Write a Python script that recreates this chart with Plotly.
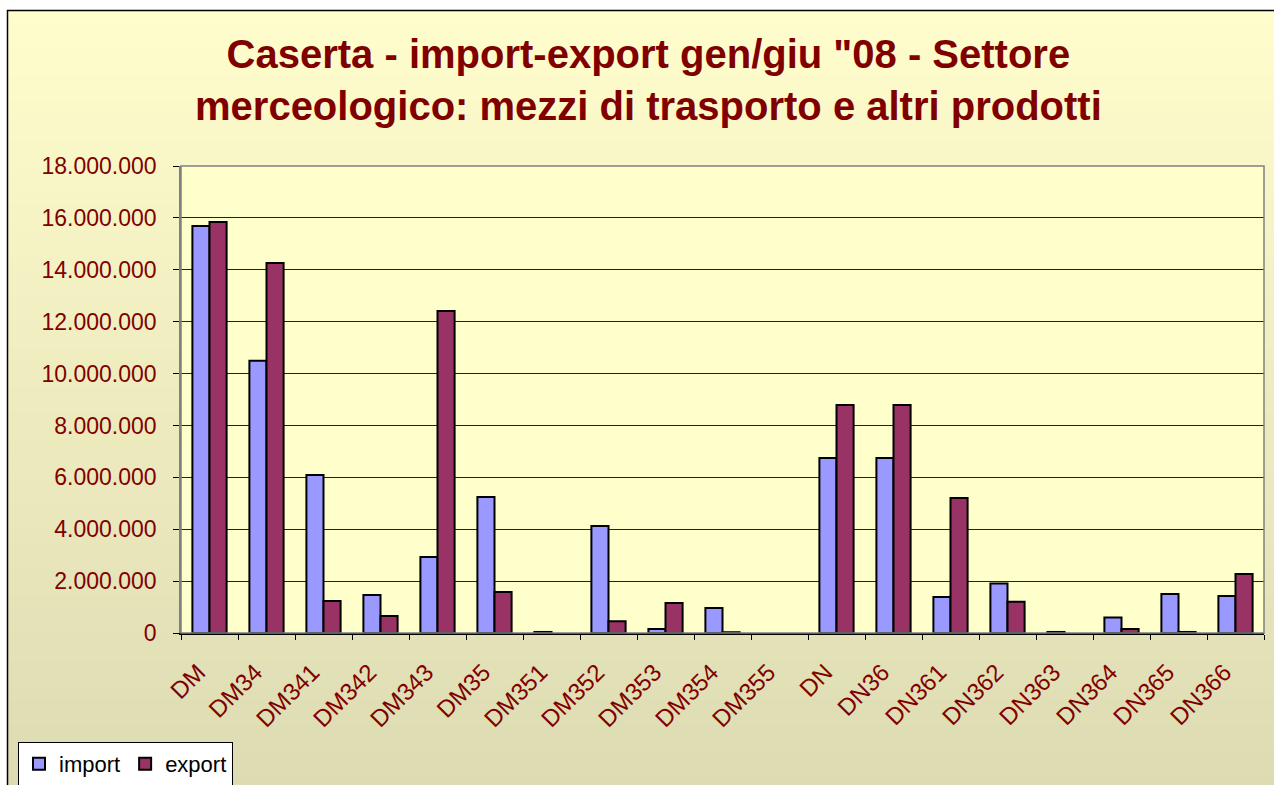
import plotly.graph_objects as go

categories = ["DM", "DM34", "DM341", "DM342", "DM343", "DM35", "DM351", "DM352", "DM353",
              "DM354", "DM355", "DN", "DN36", "DN361", "DN362", "DN363", "DN364", "DN365", "DN366"]
import_vals = [15690000, 10490000, 6090000, 1460000, 2930000, 5240000, 40000, 4120000, 150000,
               960000, None, 6750000, 6750000, 1390000, 1910000, 40000, 600000, 1500000, 1430000]
export_vals = [15840000, 14260000, 1230000, 660000, 12410000, 1580000, None, 450000, 1160000,
               30000, None, 8790000, 8790000, 5200000, 1200000, None, 150000, 40000, 2270000]
y_ticks = [0, 2000000, 4000000, 6000000, 8000000, 10000000, 12000000, 14000000, 16000000, 18000000]

W, H = 1274, 785
ML, MR, MT, MB = 181, 10, 166, 152
PW, PH = W - ML - MR, H - MT - MB

def px_x(p):
    return (p - ML) / PW

def px_y(p):
    return (H - MB - p) / PH

font_family = "Liberation Sans, Arial, sans-serif"
maroon = "#800000"

fig = go.Figure()
fig.add_trace(go.Bar(name="import", x=categories, y=import_vals,
                     marker=dict(color="#9999FF", line=dict(color="black", width=2))))
fig.add_trace(go.Bar(name="export", x=categories, y=export_vals,
                     marker=dict(color="#993366", line=dict(color="black", width=2))))

shapes = []
# gradient background
n = 60
top, bot = 10, 790
c0 = (255, 253, 204)
c1 = (221, 219, 178)
for i in range(n):
    y0p = top + (bot - top) * i / n
    y1p = top + (bot - top) * (i + 1) / n
    t = i / (n - 1)
    c = tuple(round(c0[k] + (c1[k] - c0[k]) * t) for k in range(3))
    shapes.append(dict(type="rect", xref="paper", yref="paper", layer="below",
                       x0=px_x(7), x1=px_x(1290), y0=px_y(y1p + 0.5), y1=px_y(y0p),
                       fillcolor="rgb(%d,%d,%d)" % c, line=dict(width=0)))
# outer border
shapes.append(dict(type="rect", xref="paper", yref="paper", layer="below",
                   x0=px_x(7.5), x1=px_x(1300), y0=px_y(800), y1=px_y(10.5),
                   fillcolor="rgba(0,0,0,0)", line=dict(color="black", width=1.5)))
# plot area fill
shapes.append(dict(type="rect", xref="paper", yref="paper", layer="below",
                   x0=0, x1=1, y0=0, y1=1, fillcolor="#FFFFCC", line=dict(width=0)))
# plot area border (gray)
shapes.append(dict(type="rect", xref="paper", yref="paper", layer="above",
                   x0=0, x1=1, y0=0, y1=1, fillcolor="rgba(0,0,0,0)",
                   line=dict(color="#808080", width=1.5)))

fig.update_layout(
    width=W, height=H,
    margin=dict(l=ML, r=MR, t=MT, b=MB, pad=0, autoexpand=False),
    paper_bgcolor="rgba(0,0,0,0)",
    plot_bgcolor="rgba(0,0,0,0)",
    separators=",.",
    barmode="group",
    bargap=0.4,
    bargroupgap=0,
    shapes=shapes,
    font=dict(family=font_family, color=maroon),
    showlegend=True,
    legend=dict(orientation="h", x=px_x(18), y=px_y(786), xanchor="left", yanchor="bottom",
                bgcolor="white", bordercolor="black", borderwidth=1,
                font=dict(size=22, color="black", family=font_family),
                itemwidth=30, tracegroupgap=0),
    annotations=[dict(text="Caserta - import-export gen/giu \"08 - Settore<br>merceologico: mezzi di trasporto e altri prodotti",
                      xref="paper", yref="paper", x=px_x(648), y=px_y(80),
                      xanchor="center", yanchor="middle", showarrow=False,
                      font=dict(size=40, color=maroon, family=font_family, weight="bold"))],
)
fig.update_xaxes(
    type="category", showline=True, linecolor="black", linewidth=1.5,
    ticks="outside", ticklen=5, tickcolor="black", tickson="boundaries",
    tickangle=-45, tickfont=dict(size=24, color=maroon, family=font_family),
    ticklabelstandoff=14, ticklabelshift=-11, automargin=False,
    showgrid=False,
)
fig.update_yaxes(
    range=[0, 18000000], tickvals=y_ticks, tickformat=",d",
    showline=True, linecolor="#808080", linewidth=1.5,
    ticks="outside", ticklen=6, tickcolor="black",
    showgrid=True, gridcolor="#222222", gridwidth=1,
    zeroline=False, ticklabelstandoff=12, automargin=False,
    tickfont=dict(size=23, color=maroon, family=font_family),
)

fig.write_html("out.html", config={"displayModeBar": False},
               post_script="document.body.style.margin='0';document.body.style.overflow='hidden';")
